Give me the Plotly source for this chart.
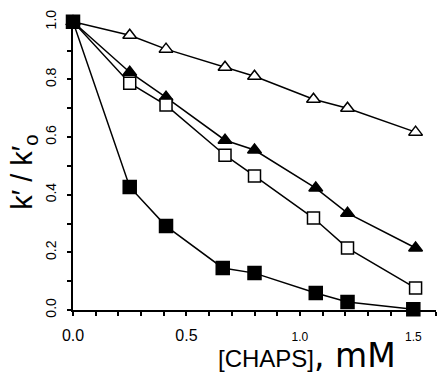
import plotly.graph_objects as go

x_open_tri = [0.0, 0.25, 0.41, 0.67, 0.80, 1.06, 1.21, 1.51]
y_open_tri = [1.0, 0.953, 0.905, 0.842, 0.811, 0.731, 0.700, 0.617]

x_fill_tri = [0.0, 0.25, 0.41, 0.67, 0.80, 1.07, 1.21, 1.51]
y_fill_tri = [1.0, 0.825, 0.738, 0.589, 0.555, 0.423, 0.336, 0.215]

x_open_sq = [0.0, 0.25, 0.41, 0.67, 0.80, 1.06, 1.21, 1.51]
y_open_sq = [1.0, 0.787, 0.711, 0.537, 0.465, 0.319, 0.215, 0.076]

x_fill_sq = [0.0, 0.25, 0.41, 0.66, 0.80, 1.07, 1.21, 1.50]
y_fill_sq = [1.0, 0.427, 0.291, 0.146, 0.128, 0.059, 0.028, 0.003]

x_tickvals = [0.0, 0.5, 1.0, 1.5]
x_ticktext = ["0.0", "0.5",
              '<span style="font-size:12px">1.0</span>',
              '<span style="font-size:12px">1.5</span>']
y_tickvals = [0.0, 0.2, 0.4, 0.6, 0.8, 1.0]
y_ticktext = ["0.0", "0.2", "0.4", "0.6", "0.8", "1.0"]

FONT = "Liberation Sans, Arial, sans-serif"

fig = go.Figure()

def add(x, y, symbol, size, filled):
    fig.add_trace(go.Scatter(
        x=x, y=y, mode="lines+markers",
        line=dict(color="black", width=1.5),
        marker=dict(symbol=symbol, size=size,
                    color="black" if filled else "white",
                    line=dict(color="black", width=1.5)),
        cliponaxis=False, showlegend=False))

add(x_open_tri, y_open_tri, "triangle-up", 12, False)
add(x_fill_tri, y_fill_tri, "triangle-up", 12, True)
add(x_open_sq, y_open_sq, "square", 12, False)
add(x_fill_sq, y_fill_sq, "square", 13, True)

fig.update_layout(
    width=437, height=372,
    margin=dict(l=73, r=1, t=16, b=62),
    paper_bgcolor="white", plot_bgcolor="white",
    font=dict(family=FONT, color="black"),
    xaxis=dict(range=[0, 1.6], showline=True, linecolor="black", linewidth=1.5,
               ticks="outside", ticklen=4, tickwidth=1.5, tickcolor="black",
               tickvals=x_tickvals, ticktext=x_ticktext,
               tickfont=dict(size=16, family=FONT), ticklabelstandoff=6,
               minor=dict(dtick=0.1, ticks="outside", ticklen=4, tickwidth=1.5, tickcolor="black"),
               showgrid=False, zeroline=False),
    yaxis=dict(range=[0, 1.02], showline=True, linecolor="black", linewidth=1.5,
               ticks="outside", ticklen=4, tickwidth=1.5, tickcolor="black",
               tickvals=y_tickvals, ticktext=y_ticktext, tickangle=-90,
               tickfont=dict(size=14, family=FONT), ticklabelstandoff=6,
               minor=dict(dtick=0.1, ticks="outside", ticklen=4, tickwidth=1.5, tickcolor="black"),
               showgrid=False, zeroline=False),
)

fig.add_annotation(
    xref="x", yref="paper", x=1.03, y=-0.155, xanchor="center", yanchor="middle",
    showarrow=False,
    text='<span style="font-size:24px">[CHAPS]</span>'
         '<span style="font-size:33px;font-family:DejaVu Sans">, mM</span>',
    font=dict(family=FONT, color="black"))

fig.add_annotation(
    xref="paper", yref="paper", x=-0.135, y=0.47, xanchor="center", yanchor="middle",
    textangle=-90, showarrow=False,
    text="k′ / k′<sub>o</sub>",
    font=dict(family=FONT, size=29, color="black"))

fig.write_html("out.html")
